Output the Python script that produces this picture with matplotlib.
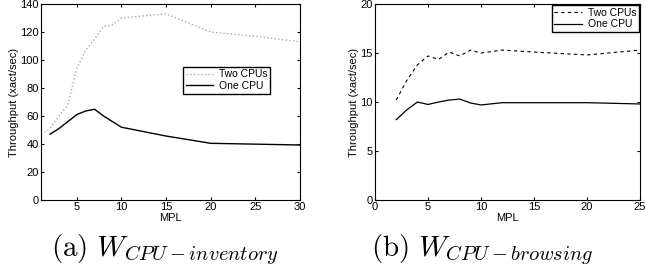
import numpy as np
import matplotlib
matplotlib.use("Agg")
import matplotlib.pyplot as plt

plt.rcParams['font.family'] = ['Liberation Sans', 'DejaVu Sans']
plt.rcParams['mathtext.fontset'] = 'cm'

# (a) W_CPU-inventory
mpl_a_two = [1, 2, 3, 4, 5, 6, 7, 8, 9, 10, 15, 20, 25, 30]
two_cpu_a = [47, 51, 60, 68, 94, 107, 115, 124, 125, 130, 133, 120, 117, 113]
mpl_a_one = [2, 3, 4, 5, 6, 7, 8, 9, 10, 15, 20, 30]
one_cpu_a = [47, 51, 56, 61, 63.6, 64.8, 60, 56, 52, 45.7, 40.5, 39.3]

# (b) W_CPU-browsing
mpl_b = [2, 3, 4, 5, 6, 7, 8, 9, 10, 12, 15, 20, 25]
two_cpu_b = [10.2, 12.2, 13.8, 14.7, 14.35, 15.1, 14.7, 15.3, 15.0, 15.3, 15.1, 14.8, 15.3]
one_cpu_b = [8.2, 9.2, 10.0, 9.75, 10.0, 10.2, 10.3, 9.9, 9.7, 9.93, 9.93, 9.93, 9.8]

captions = [r'$\mathrm{(a)}\ W_{CPU-inventory}$', r'$\mathrm{(b)}\ W_{CPU-browsing}$']

fig = plt.figure(figsize=(6.45, 2.75), dpi=100)
ax1 = fig.add_axes([0.0636, 0.2727, 0.4016, 0.7127])
ax2 = fig.add_axes([0.5814, 0.2727, 0.411, 0.7127])

ax1.plot(mpl_a_two, two_cpu_a, color='#aaaaaa', linestyle=':', linewidth=1.0, label='Two CPUs')
ax1.plot(mpl_a_one, one_cpu_a, color='black', linestyle='-', linewidth=1.0, label='One CPU')
ax1.set_xlim(1, 30)
ax1.set_ylim(0, 140)
ax1.set_xticks([5, 10, 15, 20, 25, 30])
ax1.set_yticks(np.arange(0, 141, 20))
ax1.legend(loc='upper left', bbox_to_anchor=(0.548, 0.68), fontsize=7.5, frameon=True,
           fancybox=False, edgecolor='black', framealpha=1, handlelength=2.6,
           borderpad=0.25, labelspacing=0.15, borderaxespad=0, handletextpad=0.6)

ax2.plot(mpl_b, two_cpu_b, color='black', linestyle='--', linewidth=0.8, dashes=(3, 3), label='Two CPUs')
ax2.plot(mpl_b, one_cpu_b, color='black', linestyle='-', linewidth=0.9, label='One CPU')
ax2.set_xlim(0, 25)
ax2.set_ylim(0, 20)
ax2.set_xticks(np.arange(0, 26, 5))
ax2.set_yticks(np.arange(0, 21, 5))
ax2.legend(loc='upper right', fontsize=7.5, frameon=True, fancybox=False,
           edgecolor='black', framealpha=1, handlelength=2.6,
           borderpad=0.25, labelspacing=0.15, borderaxespad=0.1, handletextpad=0.6)

for ax in (ax1, ax2):
    ax.set_xlabel('MPL', fontsize=8, labelpad=0.5)
    ax.set_ylabel('Throughput (xact/sec)', fontsize=8, labelpad=1)
    ax.tick_params(axis='both', which='both', direction='in', top=True, right=True,
                   labelsize=8, length=2.5, pad=1.5)
    for s in ax.spines.values():
        s.set_linewidth(0.8)

fig.text(0.256, 0.094, captions[0], ha='center', va='center', fontsize=21)
fig.text(0.748, 0.094, captions[1], ha='center', va='center', fontsize=21)

fig.savefig('out.png', dpi=100)
